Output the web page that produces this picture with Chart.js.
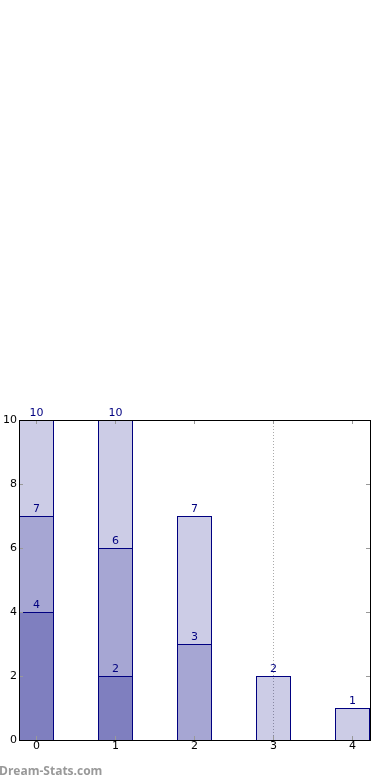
<!DOCTYPE html>
<html lang="en">
<head>
    <meta charset="UTF-8">
    <meta name="viewport" content="width=device-width, initial-scale=1.0">
    <title>Stacked Bars</title>
    <script src="https://cdn.jsdelivr.net/npm/chart.js"></script>
    <style>
        html, body { margin: 0; padding: 0; background: #fff; }
        #wrap { width: 390px; height: 780px; position: relative; }
    </style>
</head>
<body>
    <div id="wrap"><canvas id="chart"></canvas></div>

    <script>
        // chart values
        const categories = [0, 1, 2, 3, 4];
        const seriesLow = [4, 2, 0, 0, 0];
        const seriesMid = [3, 4, 3, 0, 0];
        const seriesTop = [3, 4, 4, 2, 1];
        const yTicks = [0, 2, 4, 6, 8, 10];
        const gridAt = 3;

        const navy = '#000080';

        function points(values) {
            return categories.map((c, i) => ({ x: c, y: values[i] }));
        }

        // frame, inside tick marks, running totals and watermark
        const extras = {
            id: 'extras',
            afterDatasetsDraw(chart) {
                const { ctx, chartArea: a, scales: { x, y } } = chart;
                ctx.save();

                ctx.strokeStyle = '#999';
                ctx.lineWidth = 1;
                ctx.beginPath();
                categories.forEach(v => {
                    const px = Math.floor(x.getPixelForValue(v)) + 0.5;
                    ctx.moveTo(px, a.bottom); ctx.lineTo(px, a.bottom - 4);
                    ctx.moveTo(px, a.top); ctx.lineTo(px, a.top + 4);
                });
                yTicks.forEach(v => {
                    const py = Math.round(y.getPixelForValue(v)) + 0.5;
                    ctx.moveTo(a.left, py); ctx.lineTo(a.left + 4, py);
                    ctx.moveTo(a.right, py); ctx.lineTo(a.right - 4, py);
                });
                ctx.stroke();

                ctx.strokeStyle = '#000';
                ctx.strokeRect(Math.round(a.left) + 0.5, Math.round(a.top) + 0.5,
                    Math.round(a.right - a.left), Math.round(a.bottom - a.top));

                // cumulative labels on top of each segment
                ctx.fillStyle = navy;
                ctx.font = '11px "DejaVu Sans"';
                ctx.textAlign = 'center';
                ctx.textBaseline = 'alphabetic';
                const series = [seriesLow, seriesMid, seriesTop];
                categories.forEach((c, j) => {
                    let total = 0;
                    series.forEach((s, i) => {
                        total += s[j];
                        if (s[j] > 0) {
                            const bar = chart.getDatasetMeta(i).data[j];
                            ctx.fillText(String(total), bar.x, bar.y - 4);
                        }
                    });
                });

                ctx.fillStyle = '#999';
                ctx.font = 'bold 12px "Open Sans"';
                ctx.textAlign = 'left';
                ctx.fillText('Dream-Stats.com', -1, 775);
                ctx.restore();
            }
        };

        const ctx = document.getElementById('chart').getContext('2d');
        new Chart(ctx, {
            type: 'bar',
            data: {
                datasets: [
                    { data: points(seriesLow), backgroundColor: 'rgba(0,0,128,0.5)' },
                    { data: points(seriesMid), backgroundColor: 'rgba(0,0,128,0.35)' },
                    { data: points(seriesTop), backgroundColor: 'rgba(0,0,128,0.2)' }
                ].map(d => Object.assign(d, {
                    stack: 'one',
                    borderColor: navy,
                    borderWidth: 1,
                    borderSkipped: 'start',
                    inflateAmount: 0,
                    barThickness: 35
                }))
            },
            options: {
                responsive: true,
                maintainAspectRatio: false,
                animation: false,
                layout: { padding: { top: 420, left: 0, right: 20, bottom: 20 } },
                plugins: { legend: { display: false }, tooltip: { enabled: false } },
                scales: {
                    x: {
                        type: 'linear',
                        min: -0.2215,
                        max: 4.2215,
                        offset: false,
                        afterBuildTicks: s => { s.ticks = categories.map(v => ({ value: v })); },
                        afterFit: s => { s.height = 20; },
                        grid: {
                            offset: false,
                            drawTicks: false,
                            color: c => c.tick && c.tick.value === gridAt ? '#aaa' : 'rgba(0,0,0,0)'
                        },
                        border: { display: false, dash: [1, 2] },
                        ticks: { color: '#000', padding: 0, font: { family: 'DejaVu Sans', size: 11 } }
                    },
                    y: {
                        stacked: true,
                        min: 0,
                        max: 10,
                        afterBuildTicks: s => { s.ticks = yTicks.map(v => ({ value: v })); },
                        afterFit: s => { s.width = 19; },
                        grid: { display: false, drawTicks: false },
                        border: { display: false },
                        ticks: { color: '#000', padding: 2, font: { family: 'DejaVu Sans', size: 11 } }
                    }
                }
            },
            plugins: [extras]
        });
    </script>
</body>
</html>
